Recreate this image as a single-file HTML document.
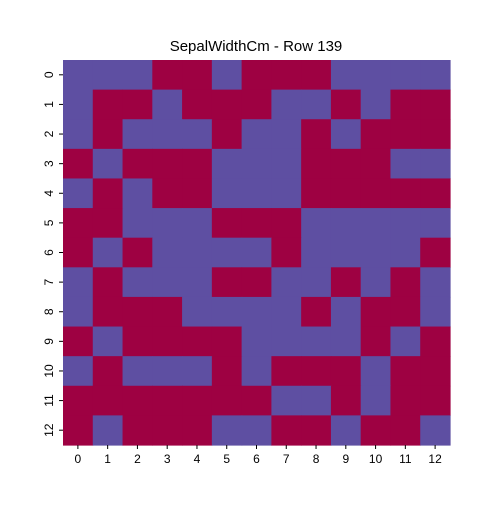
<!DOCTYPE html>
<html><head><meta charset="utf-8"><style>body{margin:0;background:#fff}svg{font-family:"Liberation Sans",sans-serif}</style></head>
<body>
<svg id="chart" width="500" height="500">
<text x="256" y="51" text-anchor="middle" font-size="15">SepalWidthCm - Row 139</text>
<g id="cells"></g><g id="axes"></g>
</svg>
<script>
const rowLabels=["0","1","2","3","4","5","6","7","8","9","10","11","12"];
const colLabels=["0","1","2","3","4","5","6","7","8","9","10","11","12"];
const values=[
[1,1,1,0,0,1,0,0,0,1,1,1,1],
[1,0,0,1,0,0,0,1,1,0,1,0,0],
[1,0,1,1,1,0,1,1,0,1,0,0,0],
[0,1,0,0,0,1,1,1,0,0,0,1,1],
[1,0,1,0,0,1,1,1,0,0,0,0,0],
[0,0,1,1,1,0,0,0,1,1,1,1,1],
[0,1,0,1,1,1,1,0,1,1,1,1,0],
[1,0,1,1,1,0,0,1,1,0,1,0,1],
[1,0,0,0,1,1,1,1,0,1,0,0,1],
[0,1,0,0,0,0,1,1,1,1,0,1,0],
[1,0,1,1,1,0,1,0,0,0,1,0,0],
[0,0,0,0,0,0,0,1,1,0,1,0,0],
[0,1,0,0,0,1,1,0,0,1,0,0,1]];
const L=63,T=60,W=387,H=385;
const cw=W/colLabels.length,ch=H/rowLabels.length;
const xS=j=>L+j*cw, yS=i=>T+i*ch;
const ns="http://www.w3.org/2000/svg";
const cells=document.getElementById('cells'),axes=document.getElementById('axes');
values.forEach((row,i)=>row.forEach((v,j)=>{
 const r=document.createElementNS(ns,'rect');
 r.setAttribute('x',xS(j));r.setAttribute('y',yS(i));
 r.setAttribute('width',cw+0.6);r.setAttribute('height',ch+0.6);
 r.setAttribute('fill',v?'#5e4fa2':'#9e0142');
 
 
 cells.appendChild(r);
}));
colLabels.forEach((lab,j)=>{
 const x=xS(j)+cw/2;
 const l=document.createElementNS(ns,'line');
 l.setAttribute('x1',x);l.setAttribute('x2',x);l.setAttribute('y1',T+H);l.setAttribute('y2',T+H+4);l.setAttribute('stroke','#000');
 
 
 axes.appendChild(l);
 const t=document.createElementNS(ns,'text');
 t.setAttribute('x',x);t.setAttribute('y',T+H+18);t.setAttribute('text-anchor','middle');t.setAttribute('font-size','12');
 t.textContent=lab;
 
 
 axes.appendChild(t);
});
rowLabels.forEach((lab,i)=>{
 const y=yS(i)+ch/2;
 const l=document.createElementNS(ns,'line');
 l.setAttribute('x1',L-4);l.setAttribute('x2',L);l.setAttribute('y1',y);l.setAttribute('y2',y);l.setAttribute('stroke','#000');
 
 
 axes.appendChild(l);
 const t=document.createElementNS(ns,'text');
 t.setAttribute('x',0);t.setAttribute('y',0);t.setAttribute('text-anchor','middle');t.setAttribute('font-size','12');
 t.setAttribute('transform','translate('+(L-10)+','+y+') rotate(-90)');
 t.setAttribute('dy','0');
 t.textContent=lab;
 
 
 axes.appendChild(t);
});
</script>
</body></html>
